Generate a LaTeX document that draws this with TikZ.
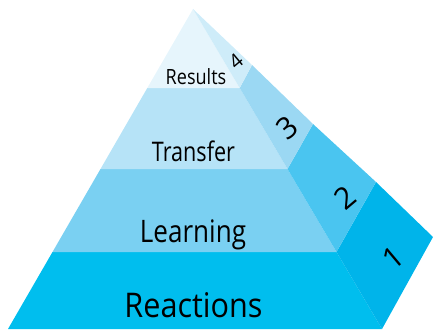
\documentclass[tikz,border=0pt]{standalone}
\usepackage{graphicx}
\usepackage{fontspec}
\setmainfont{Open Sans}

\definecolor{front1}{HTML}{00BEEE}
\definecolor{front2}{HTML}{7AD0F2}
\definecolor{front3}{HTML}{B6E3F7}
\definecolor{front4}{HTML}{E6F5FC}
\definecolor{side1}{HTML}{00B4EA}
\definecolor{side2}{HTML}{4AC5F0}
\definecolor{side3}{HTML}{9BD8F3}
\definecolor{side4}{HTML}{CEECF9}

\tikzset{
  level/.style={inner sep=0pt, anchor=base},
  num/.style={inner sep=0pt, rotate=40, font=\fontsize{30}{30}\selectfont}
}

\begin{document}
\begin{tikzpicture}[x=1pt,y=-1pt]
\useasboundingbox (0,0) rectangle (433,329);

% corners of the front face, the ridge and the back edge
\coordinate (apex) at (193,9);
\coordinate (l0) at (8,329);
\coordinate (l1) at (52.5,252);
\coordinate (l2) at (100.5,169);
\coordinate (l3) at (147.3,88);
\coordinate (r0) at (382,329);
\coordinate (r1) at (336.5,252);
\coordinate (r2) at (287.5,169);
\coordinate (r3) at (239.7,88);
\coordinate (b0) at (433,237);
\coordinate (b1) at (376,182);
\coordinate (b2) at (313,124);
\coordinate (b3) at (252,65);

\foreach \i/\j in {0/1,1/2,2/3} {
        \fill[front\j] (l\i) -- (r\i) -- (r\j) -- (l\j) -- cycle;
        \fill[side\j] (r\i) -- (b\i) -- (b\j) -- (r\j) -- cycle;
}
\fill[front4] (l3) -- (r3) -- (apex) -- cycle;
\fill[side4] (r3) -- (b3) -- (apex) -- cycle;

\node[level, font=\fontsize{34}{34}\selectfont] (reactions) at (193.5,317) {\scalebox{0.9}[1]{Reactions}};
\node[level, font=\fontsize{31}{31}\selectfont] (learning) at (193,242) {\scalebox{0.84}[1]{Learning}};
\node[level, font=\fontsize{27}{27}\selectfont] (transfer) at (193.5,161.5) {\scalebox{0.8}[1]{Transfer}};
\node[level, font=\fontsize{21}{21}\selectfont] (results) at (196,84) {\scalebox{0.86}[1]{Results}};

\node[num] (one) at (393,258) {1};
\node[num] (two) at (345,198) {2};
\node[num] (three) at (287,128) {3};
\node[num, font=\fontsize{20}{20}\selectfont] (four) at (236,61) {4};
\end{tikzpicture}
\end{document}
